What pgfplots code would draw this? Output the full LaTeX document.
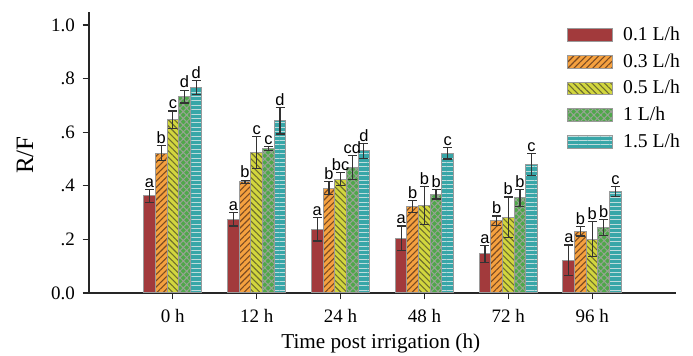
\documentclass[border=0pt]{standalone}
\usepackage{fontspec}
\setmainfont{Liberation Serif}
\newfontfamily\sansf{Liberation Sans}
\usepackage{pgfplots}
\usepackage{pgfplotstable}
\pgfplotsset{compat=1.18}
\usetikzlibrary{patterns.meta}

\definecolor{cRed}{HTML}{A23A3C}
\definecolor{cOrange}{HTML}{F5A13F}
\definecolor{cOrangeL}{HTML}{7A4A22}
\definecolor{cYellow}{HTML}{D2D63E}
\definecolor{cYellowL}{HTML}{6E6E2E}
\definecolor{cGreen}{HTML}{4FA84A}
\definecolor{cGreenL}{HTML}{98A394}
\definecolor{cTeal}{HTML}{38A6A8}
\definecolor{cTealL}{HTML}{BFDCDC}
\definecolor{cEdge}{HTML}{9A9A9A}

\pgfplotstableread{
x v1 e1 l1 v2 e2 l2 v3 e3 l3 v4 e4 l4 v5 e5 l5
0 0.362 0.025 a 0.521 0.028 b 0.646 0.033 c 0.733 0.024 d 0.766 0.026 d
1 0.275 0.025 a 0.415 0.006 b 0.524 0.060 c 0.539 0.008 c 0.642 0.049 d
2 0.238 0.044 a 0.391 0.025 b 0.425 0.024 bc 0.468 0.045 cd 0.530 0.027 d
3 0.204 0.046 a 0.322 0.022 b 0.327 0.070 b 0.369 0.018 b 0.521 0.021 c
4 0.146 0.031 a 0.270 0.017 b 0.282 0.076 b 0.355 0.032 b 0.480 0.041 c
5 0.122 0.057 a 0.231 0.018 b 0.201 0.065 b 0.245 0.030 b 0.379 0.019 c
}\data

\begin{document}
\begin{tikzpicture}
\path[use as bounding box] (-44.5pt,-31.5pt) rectangle (302pt,146.5pt);
\begin{axis}[
  at={(0pt,0pt)}, anchor=south west,
  scale only axis, width=293.5pt, height=140.5pt,
  xmin=-1, xmax=6, ymin=0, ymax=1.0485,
  axis x line*=bottom, axis y line*=left,
  axis line style={black!85, line width=0.6pt},
  tick style={black!85, line width=0.6pt},
  tick align=outside, major tick length=3.2pt,
  xtick={0,1,2,3,4,5},
  xticklabels={0 h,12 h,24 h,48 h,72 h,96 h},
  ytick={0,0.2,0.4,0.6,0.8,1.0},
  yticklabels={0.0,.2,.4,.6,.8,1.0},
  ticklabel style={font=\fontsize{9.5}{11}\selectfont},
  xticklabel style={yshift=-1.5pt},
  yticklabel style={xshift=-0.3pt},
  xlabel={Time post irrigation (h)},
  ylabel={R/F},
  xlabel style={at={(axis description cs:0.497,-0.18)}, anchor=center, font=\fontsize{10.6}{12}\selectfont},
  ylabel style={at={(axis description cs:-0.109,0.491)}, anchor=center, font=\fontsize{12.5}{14}\selectfont},
  bar width=0.139,
  error bars/y dir=both, error bars/y explicit,
  error bars/error bar style={black!80, line width=0.6pt},
  error bars/error mark options={rotate=90, mark size=2.25pt, black!80, line width=0.6pt},
  legend image code/.code={\draw[#1] (0pt,-3.2pt) rectangle (22.5pt,3.2pt);},
  legend style={at={(0.814,0.962)}, anchor=north west, draw=none, fill=none,
    font=\fontsize{9.8}{11}\selectfont, inner sep=0pt, row sep=1pt,
    /tikz/every odd column/.append style={column sep=3pt}},
  legend cell align=left,
  bb/.style={ybar, bar shift=0pt, draw=cEdge, line width=0.5pt},
  lbl/.style={only marks, mark=none, forget plot, nodes near coords,
    point meta=explicit symbolic,
    every node near coord/.append style={font=\sansf\fontsize{8.2}{9}\selectfont, anchor=south, inner sep=0.8pt, black}},
]
\addplot[bb, fill=cRed]
  table[x expr=\thisrow{x}-0.278, y=v1, y error=e1] {\data};
\addlegendentry{0.1 L/h}
\addplot[bb, fill=cOrange,
  postaction={pattern={Lines[angle=45, distance=2.2pt, line width=0.55pt]}, pattern color=cOrangeL}]
  table[x expr=\thisrow{x}-0.139, y=v2, y error=e2] {\data};
\addlegendentry{0.3 L/h}
\addplot[bb, fill=cYellow,
  postaction={pattern={Lines[angle=-45, distance=2.2pt, line width=0.55pt]}, pattern color=cYellowL}]
  table[x expr=\thisrow{x}, y=v3, y error=e3] {\data};
\addlegendentry{0.5 L/h}
\addplot[bb, fill=cGreen,
  postaction={pattern={Hatch[angle=45, distance=2.4pt, line width=0.5pt]}, pattern color=cGreenL}]
  table[x expr=\thisrow{x}+0.139, y=v4, y error=e4] {\data};
\addlegendentry{1 L/h}
\addplot[bb, fill=cTeal,
  postaction={pattern={Lines[angle=0, distance=2.2pt, line width=0.4pt]}, pattern color=cTealL}]
  table[x expr=\thisrow{x}+0.278, y=v5, y error=e5] {\data};
\addlegendentry{1.5 L/h}

\addplot[lbl] table[x expr=\thisrow{x}-0.278, y expr=\thisrow{v1}+\thisrow{e1}, meta=l1] {\data};
\addplot[lbl] table[x expr=\thisrow{x}-0.139, y expr=\thisrow{v2}+\thisrow{e2}, meta=l2] {\data};
\addplot[lbl] table[x expr=\thisrow{x}, y expr=\thisrow{v3}+\thisrow{e3}, meta=l3] {\data};
\addplot[lbl] table[x expr=\thisrow{x}+0.139, y expr=\thisrow{v4}+\thisrow{e4}, meta=l4] {\data};
\addplot[lbl] table[x expr=\thisrow{x}+0.278, y expr=\thisrow{v5}+\thisrow{e5}, meta=l5] {\data};
\end{axis}
\end{tikzpicture}
\end{document}
